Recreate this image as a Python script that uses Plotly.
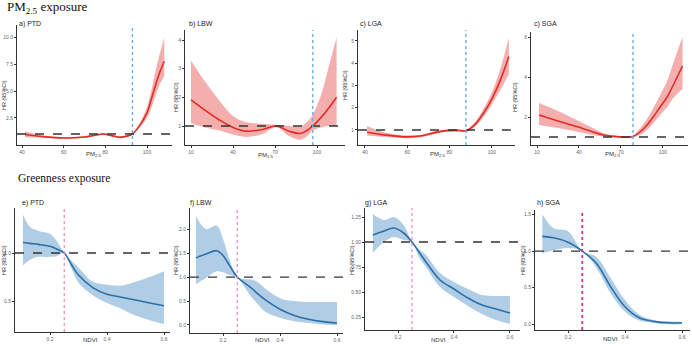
import plotly.graph_objects as go

W, H = 692, 346

# ---------------- data: PM2.5 exposure ----------------
a_x = [41.5, 50, 60, 70, 75, 79, 83, 87, 90, 93, 96.7, 100, 102, 104, 106, 108.3]
a_hr = [0.95, 0.75, 0.63, 0.72, 0.88, 1.0, 0.85, 0.7, 0.78, 1.0, 1.85, 3.0, 4.2, 5.5, 6.7, 7.8]
a_hi = [1.25, 0.85, 0.7, 0.8, 0.95, 1.06, 0.92, 0.78, 0.86, 1.05, 2.05, 3.55, 5.0, 6.8, 8.4, 10.0]
a_lo = [0.7, 0.66, 0.57, 0.65, 0.8, 0.94, 0.78, 0.62, 0.7, 0.95, 1.65, 2.5, 3.4, 4.5, 5.6, 6.4]

b_x = [10, 20, 30, 40, 49, 60, 71, 80, 88, 93, 97, 103, 108, 114]
b_hr = [1.91, 1.55, 1.22, 0.95, 0.82, 0.87, 1.0, 0.82, 0.74, 0.85, 1.0, 1.3, 1.6, 2.0]
b_hi = [3.28, 2.55, 1.9, 1.35, 1.14, 1.08, 1.04, 1.0, 0.98, 1.15, 1.4, 2.1, 3.0, 4.1]
b_lo = [1.1, 0.95, 0.85, 0.7, 0.62, 0.7, 0.96, 0.65, 0.52, 0.65, 0.85, 0.95, 1.0, 1.0]

c_x = [41, 50, 60, 67, 72, 78.7, 84, 88, 92, 96, 100, 104, 108]
c_hr = [0.9, 0.77, 0.69, 0.74, 0.86, 0.97, 0.98, 0.97, 1.25, 1.75, 2.4, 3.25, 4.3]
c_hi = [1.18, 0.88, 0.76, 0.8, 0.92, 1.02, 1.03, 1.02, 1.35, 1.95, 2.7, 3.75, 5.15]
c_lo = [0.75, 0.68, 0.63, 0.68, 0.8, 0.92, 0.93, 0.92, 1.15, 1.58, 2.15, 2.8, 3.5]

d_x = [11.4, 25, 38.3, 50, 57.4, 65, 72.9, 78.6, 86, 92, 98, 103, 107.4, 114]
d_hr = [2.1, 1.8, 1.52, 1.25, 1.1, 1.03, 1.0, 1.03, 1.4, 1.9, 2.5, 3.0, 3.6, 4.55]
d_hi = [2.7, 2.3, 1.85, 1.45, 1.2, 1.08, 1.03, 1.08, 1.65, 2.3, 3.1, 3.8, 4.7, 6.0]
d_lo = [1.6, 1.45, 1.27, 1.1, 1.02, 0.98, 0.97, 0.99, 1.2, 1.6, 2.1, 2.5, 2.95, 3.4]

# ---------------- data: Greenness exposure ----------------
e_x = [0.105, 0.13, 0.16, 0.2, 0.225, 0.25, 0.275, 0.3, 0.35, 0.4, 0.45, 0.5, 0.55, 0.6]
e_hr = [1.11, 1.10, 1.09, 1.07, 1.04, 1.0, 0.88, 0.77, 0.64, 0.57, 0.54, 0.51, 0.48, 0.45]
e_hi = [1.40, 1.27, 1.23, 1.2, 1.12, 1.0, 0.92, 0.85, 0.7, 0.67, 0.66, 0.7, 0.75, 0.81]
e_lo = [0.87, 0.93, 0.96, 0.96, 0.97, 1.0, 0.84, 0.69, 0.56, 0.48, 0.42, 0.35, 0.3, 0.26]

f_x = [0.105, 0.14, 0.178, 0.2, 0.22, 0.25, 0.275, 0.3, 0.32, 0.35, 0.4, 0.45, 0.5, 0.55, 0.6]
f_hr = [1.4, 1.48, 1.55, 1.45, 1.27, 1.0, 0.88, 0.77, 0.66, 0.52, 0.33, 0.2, 0.12, 0.07, 0.04]
f_hi = [2.28, 2.0, 2.07, 1.8, 1.42, 1.0, 0.96, 0.95, 0.9, 0.75, 0.56, 0.5, 0.48, 0.48, 0.48]
f_lo = [0.85, 0.98, 1.12, 1.1, 1.05, 1.0, 0.8, 0.58, 0.45, 0.27, 0.15, 0.08, 0.04, 0.01, 0.0]

g_x = [0.11, 0.15, 0.185, 0.22, 0.25, 0.275, 0.3, 0.35, 0.4, 0.45, 0.5, 0.55, 0.6]
g_hr = [1.07, 1.11, 1.14, 1.09, 1.0, 0.9, 0.8, 0.62, 0.53, 0.44, 0.37, 0.33, 0.29]
g_hi = [1.28, 1.22, 1.25, 1.17, 1.0, 0.93, 0.87, 0.69, 0.6, 0.53, 0.47, 0.46, 0.46]
g_lo = [0.89, 1.0, 1.05, 1.02, 1.0, 0.85, 0.75, 0.55, 0.45, 0.36, 0.28, 0.22, 0.18]

h_x = [0.11, 0.15, 0.2, 0.25, 0.3, 0.35, 0.4, 0.45, 0.5, 0.55, 0.6]
h_hr = [1.2, 1.18, 1.12, 1.0, 0.83, 0.51, 0.24, 0.09, 0.04, 0.02, 0.02]
h_hi = [1.5, 1.31, 1.27, 1.0, 0.92, 0.63, 0.33, 0.13, 0.06, 0.04, 0.03]
h_lo = [0.97, 1.01, 1.04, 1.0, 0.77, 0.42, 0.17, 0.05, 0.02, 0.0, 0.0]

# reference (threshold) lines
pm_ref = [93, 97, 87.7, 78.6]
ndvi_ref = [0.25, 0.25, 0.25, 0.25]

titles = ["a) PTD", "b) LBW", "c) LGA", "c) SGA", "e) PTD", "f) LBW", "g) LGA", "h) SGA"]

# tick labels
a_yt = [2.5, 5.0, 7.5, 10.0]; a_ytt = ["2.5", "5.0", "7.5", "10.0"]
b_yt = [1, 2, 3, 4]; b_ytt = ["1", "2", "3", "4"]
c_yt = [1, 2, 3, 4, 5]; c_ytt = ["1", "2", "3", "4", "5"]
d_yt = [2, 4, 6]; d_ytt = ["2", "4", "6"]
e_yt = [0.5, 1.0]; e_ytt = ["0.5", "1.0"]
f_yt = [0.0, 0.5, 1.0, 1.5, 2.0]; f_ytt = ["0.0", "0.5", "1.0", "1.5", "2.0"]
g_yt = [0.25, 0.5, 0.75, 1.0, 1.25]; g_ytt = ["0.25", "0.50", "0.75", "1.00", "1.25"]
h_yt = [0.0, 0.5, 1.0, 1.5]; h_ytt = ["0.0", "0.5", "1.0", "1.5"]
pm_xt_ac = [40, 60, 80, 100]; pm_xtt_ac = ["40", "60", "80", "100"]
pm_xt_bd = [10, 40, 70, 100]; pm_xtt_bd = ["10", "40", "70", "100"]
nd_xt = [0.2, 0.4, 0.6]; nd_xtt = ["0.2", "0.4", "0.6"]

# ---------------- layout geometry (pixels) ----------------
def px(x):
    return x / W

def py(y):
    return 1 - y / H

panels = [
    dict(x=a_x, hr=a_hr, lo=a_lo, hi=a_hi, dom=(17, 172, 25, 145), xr=(37.6, 112), yr=(-0.03, 11.19),
         yt=a_yt, ytt=a_ytt, xt=pm_xt_ac, xtt=pm_xtt_ac, ref=pm_ref[0], kind="pm",
         tpos=(17, 24), ytpos=(4, 95), xtpos=(93, 154)),
    dict(x=b_x, hr=b_hr, lo=b_lo, hi=b_hi, dom=(185, 345, 30, 145), xr=(5.71, 120), yr=(0.337, 4.35),
         yt=b_yt, ytt=b_ytt, xt=pm_xt_bd, xtt=pm_xtt_bd, ref=pm_ref[1], kind="pm",
         tpos=(187, 24), ytpos=(176, 97), xtpos=(265, 155)),
    dict(x=c_x, hr=c_hr, lo=c_lo, hi=c_hi, dom=(358, 515, 30, 145), xr=(36.7, 110.9), yr=(0.326, 5.49),
         yt=c_yt, ytt=c_ytt, xt=pm_xt_ac, xtt=pm_xtt_ac, ref=pm_ref[2], kind="pm",
         tpos=(358, 24), ytpos=(345, 85), xtpos=(437, 154)),
    dict(x=d_x, hr=d_hr, lo=d_lo, hi=d_hi, dom=(531, 688, 32, 145), xr=(5.71, 117.9), yr=(0.6, 6.25),
         yt=d_yt, ytt=d_ytt, xt=pm_xt_bd, xtt=pm_xtt_bd, ref=pm_ref[3], kind="pm",
         tpos=(532, 24), ytpos=(515, 97), xtpos=(612, 154)),
    dict(x=e_x, hr=e_hr, lo=e_lo, hi=e_hi, dom=(15, 170, 208, 332), xr=(0.0772, 0.621), yr=(0.177, 1.469),
         yt=e_yt, ytt=e_ytt, xt=nd_xt, xtt=nd_xtt, ref=ndvi_ref[0], kind="nd",
         tpos=(20, 203), ytpos=(4, 260), xtpos=(90, 340)),
    dict(x=f_x, hr=f_hr, lo=f_lo, hi=f_hi, dom=(190, 343, 208, 333), xr=(0.0842, 0.621), yr=(-0.167, 2.44),
         yt=f_yt, ytt=f_ytt, xt=nd_xt, xtt=nd_xtt, ref=ndvi_ref[1], kind="nd",
         tpos=(188, 203), ytpos=(176, 260), xtpos=(262, 340)),
    dict(x=g_x, hr=g_hr, lo=g_lo, hi=g_hi, dom=(365, 520, 208, 330), xr=(0.082, 0.636), yr=(0.12, 1.34),
         yt=g_yt, ytt=g_ytt, xt=nd_xt, xtt=nd_xtt, ref=ndvi_ref[2], kind="nd",
         tpos=(363, 203), ytpos=(352, 260), xtpos=(438, 340)),
    dict(x=h_x, hr=h_hr, lo=h_lo, hi=h_hi, dom=(535, 690, 210, 330), xr=(0.0842, 0.628), yr=(-0.078, 1.56),
         yt=h_yt, ytt=h_ytt, xt=nd_xt, xtt=nd_xtt, ref=ndvi_ref[3], kind="nd",
         tpos=(535, 203), ytpos=(523, 260), xtpos=(610, 339)),
]

RED = "#e32b24"
RED_FILL = "rgba(238,120,120,0.6)"
BLUE = "#2b6ea8"
BLUE_FILL = "rgba(122,173,212,0.6)"

fig = go.Figure()
layout = dict(width=W, height=H, margin=dict(l=0, r=0, t=0, b=0),
              paper_bgcolor="white", plot_bgcolor="white", showlegend=False)
shapes = []
annotations = []

for i, p in enumerate(panels):
    n = "" if i == 0 else str(i + 1)
    xa, ya = "x" + n, "y" + n
    line_c = RED if p["kind"] == "pm" else BLUE
    fill_c = RED_FILL if p["kind"] == "pm" else BLUE_FILL
    fig.add_trace(go.Scatter(x=p["x"], y=p["lo"], mode="lines", line=dict(width=0, shape="spline", smoothing=1),
                             xaxis=xa, yaxis=ya, hoverinfo="skip"))
    fig.add_trace(go.Scatter(x=p["x"], y=p["hi"], mode="lines", line=dict(width=0, shape="spline", smoothing=1),
                             fill="tonexty", fillcolor=fill_c, xaxis=xa, yaxis=ya, hoverinfo="skip"))
    fig.add_trace(go.Scatter(x=p["x"], y=p["hr"], mode="lines",
                             line=dict(color=line_c, width=1.6, shape="spline", smoothing=1),
                             xaxis=xa, yaxis=ya))
    x0, x1, y0, y1 = p["dom"]
    ax_common = dict(showline=True, linecolor="#333", linewidth=1, showgrid=False, zeroline=False,
                     ticks="outside", ticklen=2, tickwidth=0.8, tickcolor="#333",
                     tickfont=dict(size=5, color="#666", family="Liberation Sans"))
    layout["xaxis" + n] = dict(ax_common, domain=[px(x0), px(x1)], range=list(p["xr"]), anchor=ya,
                               tickvals=p["xt"], ticktext=p["xtt"])
    layout["yaxis" + n] = dict(ax_common, domain=[py(y1), py(y0)], range=list(p["yr"]), anchor=xa,
                               tickvals=p["yt"], ticktext=p["ytt"])
    # horizontal HR = 1 line
    shapes.append(dict(type="line", xref=xa + " domain", yref=ya, x0=0, x1=1, y0=1, y1=1,
                       line=dict(color="#333", width=1.3, dash="dash")))
    # threshold line
    if p["kind"] == "pm":
        vc, vw = "#6aaee0", 1.4
    else:
        vc, vw = ("#c9378c", 1.8) if i == 7 else ("#ec86bb", 1.2)
    shapes.append(dict(type="line", xref=xa, yref=ya + " domain", x0=p["ref"], x1=p["ref"], y0=0, y1=1,
                       line=dict(color=vc, width=vw, dash="dot")))
    # texts
    tx, ty = p["tpos"]
    annotations.append(dict(x=px(tx), y=py(ty), xref="paper", yref="paper", text=titles[i],
                            showarrow=False, xanchor="left", yanchor="middle",
                            font=dict(size=7, color="#222", family="Liberation Sans")))
    yx, yy = p["ytpos"]
    annotations.append(dict(x=px(yx), y=py(yy), xref="paper", yref="paper", text="HR (95%CI)",
                            showarrow=False, textangle=-90, xanchor="center", yanchor="middle",
                            font=dict(size=5.5, color="#333", family="Liberation Sans")))
    xx, xy = p["xtpos"]
    xt_text = "PM<sub>2.5</sub>" if p["kind"] == "pm" else "NDVI"
    annotations.append(dict(x=px(xx), y=py(xy), xref="paper", yref="paper", text=xt_text,
                            showarrow=False, xanchor="center", yanchor="middle",
                            font=dict(size=6, color="#333", family="Liberation Sans")))

annotations.append(dict(x=px(5), y=py(8), xref="paper", yref="paper",
                        text="PM<sub>2.5</sub> exposure", showarrow=False, xanchor="left", yanchor="middle",
                        font=dict(size=13, color="#111", family="Liberation Serif")))
annotations.append(dict(x=px(16), y=py(178), xref="paper", yref="paper",
                        text="Greenness exposure", showarrow=False, xanchor="left", yanchor="middle",
                        font=dict(size=11.5, color="#111", family="Liberation Serif")))

layout["shapes"] = shapes
layout["annotations"] = annotations
fig.update_layout(**layout)
fig.write_html("out.html")
